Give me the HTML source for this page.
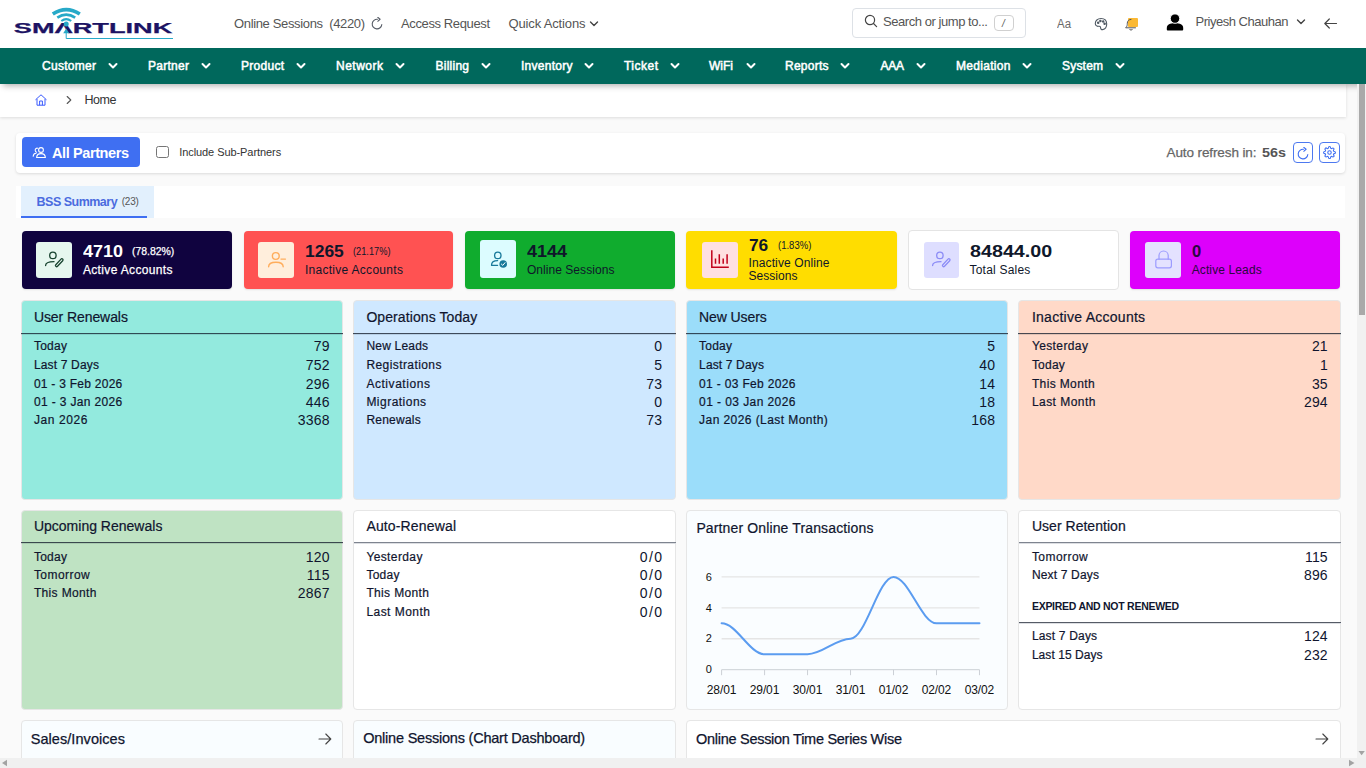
<!DOCTYPE html>
<html>
<head>
<meta charset="utf-8">
<title>Home</title>
<style>
*{box-sizing:border-box;margin:0;padding:0}
html,body{width:1366px;height:768px;overflow:hidden;background:#fafafa;font-family:"Liberation Sans",sans-serif;color:#222}
.a{position:absolute;white-space:nowrap}
.t{position:absolute;white-space:nowrap;line-height:1}
#header{left:0;top:0;width:1366px;height:48px;background:#fff}
#nav{left:0;top:48px;width:1366px;height:36px;background:#00685c;box-shadow:0 5px 6px -3px rgba(0,0,0,.3)}
#crumb{left:0;top:84px;width:1346px;height:33px;background:#fff;box-shadow:0 1px 3px rgba(0,0,0,.12)}
#filter{left:16px;top:133px;width:1329px;height:39.5px;background:#fff;border-radius:4px;box-shadow:0 1px 3px rgba(0,0,0,.13)}
#tabs{left:16px;top:185.5px;width:1329px;height:32px;background:#fff}
.card{height:58px;border-radius:4px;box-shadow:0 1px 2px rgba(0,0,0,.1)}
.ico{position:absolute;width:36px;height:36px;border-radius:3px}
.panel{border-radius:4px;border:1px solid #e6e6e6}
.hr{position:absolute;height:1px;background:#3a3a3a}
.sw{-webkit-text-stroke:.3px currentColor}
</style>
</head>
<body>
<div class="a" id="header"></div>
<svg class="a" style="left:0;top:0" width="190" height="48" viewBox="0 0 190 48">
<text x="13.8" y="33.4" font-family="Liberation Sans" font-weight="bold" font-size="15" fill="#1c1363" stroke="#1c1363" stroke-width=".25" textLength="158.6" lengthAdjust="spacingAndGlyphs">SM&#923;RTLINK</text>
<g fill="none" stroke="#27a9c8" stroke-linecap="butt">
<path d="M52.8 14 Q66.2 5.3 79.8 14" stroke-width="3.7"/>
<path d="M57.3 17.6 Q66.2 11.8 75.2 17.6" stroke-width="2.7"/>
<path d="M61.3 21 Q66.2 17.3 71.2 21" stroke-width="2.1"/>
<path d="M66.2 32 V38.5 H173" stroke-width="1"/>
</g>
<circle cx="66.2" cy="24" r="2.5" fill="#27a9c8"/>
<path d="M66.2 28.5 L69.2 33.2 H63.2 Z" fill="#27a9c8"/>
</svg>
<div class="t" id="t0" style="top:16.50px;font-size:13px;color:#555;letter-spacing:-0.352px;left:234.00px;">Online Sessions&nbsp; (4220)</div>
<svg class="a" style="left:369.7px;top:17.4px" width="14" height="14" viewBox="0 0 16 16" fill="none" stroke="#555b65" stroke-width="1.25" stroke-linecap="round" stroke-linejoin="round"><path d="M13.5 8.6 A5.5 5.5 0 1 1 8.6 2.6"/><path d="M8.9 0.3 L11.5 2.6 L8.9 4.9"/></svg>
<div class="t" id="t1" style="top:16.50px;font-size:13px;color:#555;letter-spacing:-0.380px;left:401.00px;">Access Request</div>
<div class="t" id="t2" style="top:16.50px;font-size:13px;color:#555;letter-spacing:-0.147px;left:508.50px;">Quick Actions</div>
<svg class="a" style="left:589px;top:19.5px" width="10" height="8" viewBox="0 0 10 8" fill="none" stroke="#444" stroke-width="1.4" stroke-linecap="round" stroke-linejoin="round"><path d="M1.5 2 L5 5.5 L8.5 2"/></svg>
<div class="a" style="left:852px;top:8px;width:174px;height:30px;border:1px solid #dde1e6;border-radius:4px"></div>
<svg class="a" style="left:864px;top:14px" width="14" height="14" viewBox="0 0 14 14" fill="none" stroke="#444" stroke-width="1.2" stroke-linecap="round"><circle cx="6" cy="6" r="4.6"/><path d="M9.5 9.5 L12.6 12.6"/></svg>
<div class="t" id="t3" style="top:15.00px;font-size:13px;color:#555;letter-spacing:-0.445px;left:883.00px;">Search or jump to...</div>
<div class="a" style="left:994.3px;top:15.2px;width:19.4px;height:15.6px;border:1px solid #d0d0d0;border-radius:4px"></div>
<div class="t" id="t4" style="top:18.54px;font-size:10px;color:#555;left:1002.00px;font-style:italic;">/</div>
<div class="t" id="t5" style="top:17.84px;font-size:12px;color:#6a6a6a;left:1057.30px;transform:scaleX(0.9532);transform-origin:left center;">Aa</div>
<svg class="a" style="left:1093.3px;top:16px" width="16" height="16" viewBox="0 0 16 16" fill="none" stroke="#505a64" stroke-width="1.1" stroke-linecap="round" stroke-linejoin="round"><path d="M8 2.5 C4.5 2.5 2.3 4.8 2.3 7.4 C2.3 9.4 3.8 10.6 5.4 10.3 C6.8 10 7.6 10.6 7.6 11.8 C7.6 13 8.4 13.8 9.6 13.6 C12 13.2 13.7 11 13.7 8 C13.7 4.6 11.3 2.5 8 2.5 Z"/><circle cx="5.2" cy="6.8" r=".7" fill="#444"/><circle cx="7.4" cy="4.9" r=".7" fill="#444"/><circle cx="10.2" cy="5.4" r=".7" fill="#444"/><circle cx="11.6" cy="7.8" r=".7" fill="#444"/></svg>
<div class="a" style="left:1128.2px;top:17.8px;width:9.6px;height:9.4px;background:#fbb934;border-radius:1px"></div>
<svg class="a" style="left:1123.6px;top:16.6px" width="14" height="15" viewBox="0 0 14 15" fill="none" stroke="#555" stroke-width="1" stroke-linecap="round" stroke-linejoin="round"><path d="M2 10.5 C3.2 9.5 3.3 8 3.3 6.2 C3.3 4 4.8 2.4 7 2.4"/><path d="M2 10.8 H11.5"/><path d="M5.6 12.4 C6 13.4 8 13.4 8.4 12.4"/></svg>
<svg class="a" style="left:1166px;top:13px" width="18" height="19" viewBox="0 0 18 19" fill="#000"><path d="M0.8 16.6 V15 C0.8 11.4 4 10.2 9 10.2 C14 10.2 17.2 11.4 17.2 15 V16.6 Q17.2 17.5 16.3 17.5 H1.7 Q0.8 17.5 0.8 16.6 Z"/><circle cx="9" cy="5.6" r="4.7" stroke="#fff" stroke-width=".9"/></svg>
<div class="t" id="t6" style="top:15.00px;font-size:13px;color:#555;letter-spacing:-0.481px;left:1195.50px;">Priyesh Chauhan</div>
<svg class="a" style="left:1295.8px;top:18px" width="10" height="8" viewBox="0 0 10 8" fill="none" stroke="#444" stroke-width="1.4" stroke-linecap="round" stroke-linejoin="round"><path d="M1.5 2 L5 5.5 L8.5 2"/></svg>
<svg class="a" style="left:1323px;top:17px" width="15" height="13" viewBox="0 0 15 13" fill="none" stroke="#444" stroke-width="1.2" stroke-linecap="round" stroke-linejoin="round"><path d="M13.5 6.5 H2 M6.3 2 L1.8 6.5 L6.3 11"/></svg>
<div class="a" id="crumb"></div>
<div class="a" id="nav"></div>
<div class="t" id="t7" style="top:59.84px;font-size:12px;color:#fff;letter-spacing:0.283px;left:42.00px;-webkit-text-stroke:.5px #fff;">Customer</div>
<svg class="a" style="left:108px;top:62px" width="10" height="8" viewBox="0 0 10 8" fill="none" stroke="#fff" stroke-width="2" stroke-linecap="round" stroke-linejoin="round"><path d="M1.5 2 L5 5.5 L8.5 2"/></svg>
<div class="t" id="t8" style="top:59.84px;font-size:12px;color:#fff;letter-spacing:0.273px;left:148.00px;-webkit-text-stroke:.5px #fff;">Partner</div>
<svg class="a" style="left:201px;top:62px" width="10" height="8" viewBox="0 0 10 8" fill="none" stroke="#fff" stroke-width="2" stroke-linecap="round" stroke-linejoin="round"><path d="M1.5 2 L5 5.5 L8.5 2"/></svg>
<div class="t" id="t9" style="top:59.84px;font-size:12px;color:#fff;letter-spacing:0.273px;left:241.00px;-webkit-text-stroke:.5px #fff;">Product</div>
<svg class="a" style="left:296px;top:62px" width="10" height="8" viewBox="0 0 10 8" fill="none" stroke="#fff" stroke-width="2" stroke-linecap="round" stroke-linejoin="round"><path d="M1.5 2 L5 5.5 L8.5 2"/></svg>
<div class="t" id="t10" style="top:59.84px;font-size:12px;color:#fff;letter-spacing:0.497px;left:336.00px;-webkit-text-stroke:.5px #fff;">Network</div>
<svg class="a" style="left:395px;top:62px" width="10" height="8" viewBox="0 0 10 8" fill="none" stroke="#fff" stroke-width="2" stroke-linecap="round" stroke-linejoin="round"><path d="M1.5 2 L5 5.5 L8.5 2"/></svg>
<div class="t" id="t11" style="top:59.84px;font-size:12px;color:#fff;letter-spacing:0.247px;left:435.50px;-webkit-text-stroke:.5px #fff;">Billing</div>
<svg class="a" style="left:481px;top:62px" width="10" height="8" viewBox="0 0 10 8" fill="none" stroke="#fff" stroke-width="2" stroke-linecap="round" stroke-linejoin="round"><path d="M1.5 2 L5 5.5 L8.5 2"/></svg>
<div class="t" id="t12" style="top:59.84px;font-size:12px;color:#fff;letter-spacing:0.268px;left:521.00px;-webkit-text-stroke:.5px #fff;">Inventory</div>
<svg class="a" style="left:584px;top:62px" width="10" height="8" viewBox="0 0 10 8" fill="none" stroke="#fff" stroke-width="2" stroke-linecap="round" stroke-linejoin="round"><path d="M1.5 2 L5 5.5 L8.5 2"/></svg>
<div class="t" id="t13" style="top:59.84px;font-size:12px;color:#fff;letter-spacing:0.487px;left:624.00px;-webkit-text-stroke:.5px #fff;">Ticket</div>
<svg class="a" style="left:670px;top:62px" width="10" height="8" viewBox="0 0 10 8" fill="none" stroke="#fff" stroke-width="2" stroke-linecap="round" stroke-linejoin="round"><path d="M1.5 2 L5 5.5 L8.5 2"/></svg>
<div class="t" id="t14" style="top:59.84px;font-size:12px;color:#fff;left:709.00px;-webkit-text-stroke:.5px #fff;">WiFi</div>
<svg class="a" style="left:746px;top:62px" width="10" height="8" viewBox="0 0 10 8" fill="none" stroke="#fff" stroke-width="2" stroke-linecap="round" stroke-linejoin="round"><path d="M1.5 2 L5 5.5 L8.5 2"/></svg>
<div class="t" id="t15" style="top:59.84px;font-size:12px;color:#fff;letter-spacing:0.245px;left:785.00px;-webkit-text-stroke:.5px #fff;">Reports</div>
<svg class="a" style="left:840px;top:62px" width="10" height="8" viewBox="0 0 10 8" fill="none" stroke="#fff" stroke-width="2" stroke-linecap="round" stroke-linejoin="round"><path d="M1.5 2 L5 5.5 L8.5 2"/></svg>
<div class="t" id="t16" style="top:59.84px;font-size:12px;color:#fff;letter-spacing:-0.258px;left:880.50px;-webkit-text-stroke:.5px #fff;">AAA</div>
<svg class="a" style="left:916px;top:62px" width="10" height="8" viewBox="0 0 10 8" fill="none" stroke="#fff" stroke-width="2" stroke-linecap="round" stroke-linejoin="round"><path d="M1.5 2 L5 5.5 L8.5 2"/></svg>
<div class="t" id="t17" style="top:59.84px;font-size:12px;color:#fff;letter-spacing:0.309px;left:956.00px;-webkit-text-stroke:.5px #fff;">Mediation</div>
<svg class="a" style="left:1022px;top:62px" width="10" height="8" viewBox="0 0 10 8" fill="none" stroke="#fff" stroke-width="2" stroke-linecap="round" stroke-linejoin="round"><path d="M1.5 2 L5 5.5 L8.5 2"/></svg>
<div class="t" id="t18" style="top:59.84px;font-size:12px;color:#fff;letter-spacing:0.197px;left:1062.00px;-webkit-text-stroke:.5px #fff;">System</div>
<svg class="a" style="left:1115px;top:62px" width="10" height="8" viewBox="0 0 10 8" fill="none" stroke="#fff" stroke-width="2" stroke-linecap="round" stroke-linejoin="round"><path d="M1.5 2 L5 5.5 L8.5 2"/></svg>
<svg class="a" style="left:34px;top:93px" width="14" height="14" viewBox="0 0 14 14" fill="none" stroke="#3b5bfd" stroke-width="1" stroke-linejoin="round"><path d="M1.5 6.8 L7 1.8 L12.5 6.8"/><path d="M3 6 V12.2 H11 V6"/><path d="M5.6 12.2 V8 H8.4 V12.2"/></svg>
<svg class="a" style="left:65px;top:95px" width="8" height="10" viewBox="0 0 8 10" fill="none" stroke="#555" stroke-width="1.1" stroke-linecap="round" stroke-linejoin="round"><path d="M2.2 1.5 L5.8 5 L2.2 8.5"/></svg>
<div class="t" id="t19" style="top:93.82px;font-size:12.5px;color:#333;letter-spacing:-0.448px;left:84.50px;">Home</div>
<div class="a" id="filter"></div>
<div class="a" style="left:22px;top:137.2px;width:118.2px;height:30.2px;background:#3f6ff2;border-radius:4px"></div>
<svg class="a" style="left:32px;top:146px" width="15" height="13" viewBox="0 0 15 13" fill="none" stroke="#fff" stroke-width="1.1" stroke-linecap="round" stroke-linejoin="round"><circle cx="9" cy="4" r="2.4"/><path d="M4.6 11.5 C4.8 8.6 6.6 7.6 9 7.6 C11.4 7.6 13.2 8.6 13.4 11.5 Z"/><path d="M5.6 2.2 C4.2 2 3.2 3 3.2 4.2 C3.2 5.2 3.8 5.9 4.6 6.2"/><path d="M1.2 10.3 C1.3 8.4 2.4 7.4 4 7.2"/></svg>
<div class="t" id="t20" style="top:145.83px;font-size:14.5px;color:#fff;font-weight:bold;letter-spacing:-0.401px;left:52.00px;">All Partners</div>
<div class="a" style="left:156.3px;top:146.2px;width:12.5px;height:12.2px;border:1.2px solid #767676;border-radius:2.5px;background:#fff"></div>
<div class="t" id="t21" style="top:146.89px;font-size:11px;color:#333;letter-spacing:-0.071px;left:179.20px;">Include Sub-Partners</div>
<div class="t" id="t22" style="top:146.07px;font-size:13.5px;color:#666;letter-spacing:-0.103px;left:1166.50px;-webkit-text-stroke:.25px currentColor;">Auto refresh in:</div>
<div class="t" id="t23" style="top:146.07px;font-size:13.5px;color:#555;font-weight:bold;left:1261.50px;transform:scaleX(1.0652);transform-origin:left center;">56s</div>
<div class="a" style="left:1292.8px;top:142.2px;width:19.9px;height:20.6px;border:1px solid #4d79f0;border-radius:4px;background:#fff"></div>
<div class="a" style="left:1319.2px;top:142.2px;width:20.7px;height:20.6px;border:1px solid #4d79f0;border-radius:4px;background:#fff"></div>
<svg class="a" style="left:1295.6px;top:146.9px" width="14" height="14" viewBox="0 0 16 16" fill="none" stroke="#3f6ff2" stroke-width="1.25" stroke-linecap="round" stroke-linejoin="round"><path d="M13.5 8.6 A5.5 5.5 0 1 1 8.6 2.6"/><path d="M8.9 0.3 L11.5 2.6 L8.9 4.9"/></svg>
<svg class="a" style="left:1323.1px;top:146.3px" width="13" height="13" viewBox="0 0 24 24" fill="none" stroke="#3f6ff2" stroke-width="2" stroke-linecap="round" stroke-linejoin="round"><circle cx="12" cy="12" r="3.2"/><path d="M19.4 15a1.65 1.65 0 0 0 .33 1.82l.06.06a2 2 0 1 1-2.83 2.83l-.06-.06a1.65 1.65 0 0 0-1.82-.33 1.65 1.65 0 0 0-1 1.51V21a2 2 0 0 1-4 0v-.09A1.65 1.65 0 0 0 9 19.4a1.65 1.65 0 0 0-1.82.33l-.06.06a2 2 0 1 1-2.83-2.83l.06-.06a1.65 1.65 0 0 0 .33-1.82 1.65 1.65 0 0 0-1.51-1H3a2 2 0 0 1 0-4h.09A1.65 1.65 0 0 0 4.6 9a1.65 1.65 0 0 0-.33-1.82l-.06-.06a2 2 0 1 1 2.83-2.83l.06.06a1.65 1.65 0 0 0 1.82.33H9a1.65 1.65 0 0 0 1-1.51V3a2 2 0 0 1 4 0v.09a1.65 1.65 0 0 0 1 1.51 1.65 1.65 0 0 0 1.82-.33l.06-.06a2 2 0 1 1 2.83 2.83l-.06.06a1.65 1.65 0 0 0-.33 1.82V9a1.65 1.65 0 0 0 1.51 1H21a2 2 0 0 1 0 4h-.09a1.65 1.65 0 0 0-1.51 1z"/></svg>
<div class="a" id="tabs"></div>
<div class="a" style="left:21.2px;top:185.5px;width:132.4px;height:32px;background:#e2f0fd"></div>
<div class="a" style="left:21.2px;top:215.6px;width:126px;height:2px;background:#3f6ff2"></div>
<div class="t" id="t24" style="top:195.52px;font-size:12.5px;color:#4a6bdf;font-weight:bold;letter-spacing:-0.516px;left:36.60px;">BSS Summary</div>
<div class="t" id="t25" style="top:197.13px;font-size:10px;color:#555;letter-spacing:-0.266px;left:121.80px;">(23)</div>
<div class="a card" style="left:22px;top:230.8px;width:210px;height:58px;background:#10033f;"></div>
<div class="ico" style="left:36.2px;top:241.9px;height:36px;width:36px;background:#e6f7ef"></div>
<div class="t" id="t26" style="top:242.93px;font-size:16.5px;color:#fff;font-weight:bold;left:83.20px;transform:scaleX(1.0894);transform-origin:left center;">4710</div>
<div class="t" id="t27" style="top:246.11px;font-size:10.5px;color:#fff;left:131.70px;transform:scaleX(0.9927);transform-origin:left center;-webkit-text-stroke:.25px currentColor;">(78.82%)</div>
<div class="t" id="t28" style="top:264.04px;font-size:12px;color:#fff;letter-spacing:0.349px;left:82.90px;-webkit-text-stroke:.25px currentColor;">Active Accounts</div>
<div class="a card" style="left:243.8px;top:230.8px;width:209.2px;height:58px;background:#ff5252;"></div>
<div class="ico" style="left:258.2px;top:241.9px;height:36px;width:36px;background:#ffeedc"></div>
<div class="t" id="t29" style="top:242.93px;font-size:16.5px;color:#0f172a;font-weight:bold;left:305.20px;transform:scaleX(1.0567);transform-origin:left center;">1265</div>
<div class="t" id="t30" style="top:246.11px;font-size:10.5px;color:#0f172a;left:353.30px;transform:scaleX(0.8801);transform-origin:left center;">(21.17%)</div>
<div class="t" id="t31" style="top:264.04px;font-size:12px;color:#0f172a;letter-spacing:0.288px;left:304.90px;">Inactive Accounts</div>
<div class="a card" style="left:464.6px;top:230.8px;width:210.2px;height:58px;background:#10ac2e;"></div>
<div class="ico" style="left:480.2px;top:240px;height:38px;width:36px;background:#dcfcff"></div>
<div class="t" id="t32" style="top:242.93px;font-size:16.5px;color:#0f172a;font-weight:bold;left:527.20px;transform:scaleX(1.0894);transform-origin:left center;">4144</div>
<div class="t" id="t33" style="top:264.04px;font-size:12px;color:#0f172a;letter-spacing:0.056px;left:526.90px;">Online Sessions</div>
<div class="a card" style="left:686.3px;top:230.7px;width:210.7px;height:58.1px;background:#ffdd00;"></div>
<div class="ico" style="left:702px;top:241.9px;height:36px;width:36px;background:#ffe0e0"></div>
<div class="t" id="t34" style="top:238.16px;font-size:16px;color:#0f172a;font-weight:bold;left:748.80px;transform:scaleX(1.0788);transform-origin:left center;">76</div>
<div class="t" id="t35" style="top:240.41px;font-size:10.5px;color:#0f172a;left:777.90px;transform:scaleX(0.9057);transform-origin:left center;">(1.83%)</div>
<div class="t" id="t36" style="top:257.24px;font-size:12px;color:#0f172a;letter-spacing:0.101px;left:748.60px;">Inactive Online</div>
<div class="t" id="t37" style="top:270.14px;font-size:12px;color:#0f172a;letter-spacing:0.014px;left:748.60px;">Sessions</div>
<div class="a card" style="left:907.6px;top:230px;width:211.4px;height:60px;background:#fff;border:1px solid #e4e4e4;box-shadow:none;border-radius:4px;"></div>
<div class="ico" style="left:923.8px;top:241.8px;height:36px;width:35px;background:#dedeff"></div>
<div class="t" id="t38" style="top:242.93px;font-size:16.5px;color:#0f172a;font-weight:bold;left:969.80px;transform:scaleX(1.1943);transform-origin:left center;">84844.00</div>
<div class="t" id="t39" style="top:264.04px;font-size:12px;color:#0f172a;letter-spacing:0.210px;left:969.50px;">Total Sales</div>
<div class="a card" style="left:1129.9px;top:230.8px;width:210.4px;height:58px;background:#dd00fb;"></div>
<div class="ico" style="left:1145px;top:241.8px;height:36px;width:36px;background:#e4e2ff"></div>
<div class="t" id="t40" style="top:242.93px;font-size:16.5px;color:#2a0840;font-weight:bold;left:1192.00px;">0</div>
<div class="t" id="t41" style="top:264.04px;font-size:12px;color:#2a0840;letter-spacing:0.116px;left:1191.70px;">Active Leads</div>
<svg class="a" style="left:36.2px;top:241.9px" width="36" height="36" viewBox="0 0 36 36" fill="none" stroke="#17432f" stroke-width="1.3" stroke-linecap="round" stroke-linejoin="round"><circle cx="16.9" cy="13.4" r="3.2"/><path d="M9.6 23.6 C9.6 20.6 12 19.7 18 19.7"/><path d="M19.8 22.7 L25 17.1 A1.15 1.15 0 0 1 26.7 18.7 L21.5 24.3 A1.15 1.15 0 0 1 19.8 22.7 Z"/></svg>
<svg class="a" style="left:258.2px;top:241.9px" width="36" height="36" viewBox="0 0 36 36" fill="none" stroke="#ffad5c" stroke-width="1.4" stroke-linecap="round" stroke-linejoin="round"><circle cx="17.8" cy="14" r="3.4"/><path d="M10.6 24.8 C10.6 21.5 13 20.2 17.9 20.2 C22.6 20.2 25.2 21.5 25.2 24.8"/><path d="M23 17.1 H27.4"/></svg>
<svg class="a" style="left:480.2px;top:240px" width="36" height="38" viewBox="0 0 36 38" fill="none" stroke="#17799a" stroke-width="1.3" stroke-linecap="round" stroke-linejoin="round"><circle cx="17.8" cy="15.4" r="3.2"/><path d="M17.6 20.6 C13.6 20.6 11.5 22.5 11.5 25.3 H17.6"/><circle cx="23.2" cy="24" r="3.8" fill="#17799a" stroke="none"/><path d="M21.4 24.1 L22.8 25.4 L25 22.7" stroke="#fff" stroke-width="1"/></svg>
<svg class="a" style="left:702px;top:241.9px" width="36" height="36" viewBox="0 0 36 36" fill="none" stroke="#c2001a" stroke-width="1.5" stroke-linecap="butt"><path d="M9.8 8.2 V25.3 H26.8"/><path d="M13.5 16.5 V21.8 M17.3 12.2 V21.8 M21.2 16.5 V21.8 M25.1 12.2 V21.8"/></svg>
<svg class="a" style="left:923.2px;top:242px" width="36" height="36" viewBox="0 0 36 36" fill="none" stroke="#8c8cf6" stroke-width="1.3" stroke-linecap="round" stroke-linejoin="round"><circle cx="16.9" cy="13.4" r="3.2"/><path d="M9.6 23.6 C9.6 20.6 12 19.7 18 19.7"/><path d="M19.8 22.7 L25 17.1 A1.15 1.15 0 0 1 26.7 18.7 L21.5 24.3 A1.15 1.15 0 0 1 19.8 22.7 Z"/></svg>
<svg class="a" style="left:1145px;top:241.8px" width="36" height="36" viewBox="0 0 36 36" fill="none" stroke="#9c9cff" stroke-width="1.2" stroke-linecap="round" stroke-linejoin="round"><rect x="10.8" y="17.2" width="15.6" height="8.6" rx="2"/><path d="M14 17.2 V13.6 A4.6 4.6 0 0 1 23.2 13.6 V17.2"/></svg>
<div class="a panel" style="left:21px;top:300px;width:322px;height:200px;background:#93eade"></div>
<div class="t" id="t42" style="top:310.45px;font-size:14px;color:#10152e;letter-spacing:-0.078px;left:33.90px;-webkit-text-stroke:.2px currentColor;">User Renewals</div>
<div class="hr" style="left:21px;width:322px;top:333px;background:rgba(20,30,45,.78)"></div><div class="hr" style="left:21px;width:322px;top:334px;background:rgba(20,30,45,.12)"></div>
<div class="t" id="t43" style="top:340.14px;font-size:12px;color:#10152e;letter-spacing:0.242px;left:33.90px;-webkit-text-stroke:.2px currentColor;">Today</div>
<div class="t" id="t44" style="top:338.75px;font-size:14px;color:#10152e;right:1036.40px;letter-spacing:.15px;">79</div>
<div class="t" id="t45" style="top:359.04px;font-size:12px;color:#10152e;letter-spacing:0.163px;left:33.90px;-webkit-text-stroke:.2px currentColor;">Last 7 Days</div>
<div class="t" id="t46" style="top:357.65px;font-size:14px;color:#10152e;right:1036.40px;letter-spacing:.15px;">752</div>
<div class="t" id="t47" style="top:377.94px;font-size:12px;color:#10152e;letter-spacing:0.262px;left:33.90px;-webkit-text-stroke:.2px currentColor;">01 - 3 Feb 2026</div>
<div class="t" id="t48" style="top:376.55px;font-size:14px;color:#10152e;right:1036.40px;letter-spacing:.15px;">296</div>
<div class="t" id="t49" style="top:395.94px;font-size:12px;color:#10152e;letter-spacing:0.357px;left:33.90px;-webkit-text-stroke:.2px currentColor;">01 - 3 Jan 2026</div>
<div class="t" id="t50" style="top:394.55px;font-size:14px;color:#10152e;right:1036.40px;letter-spacing:.15px;">446</div>
<div class="t" id="t51" style="top:414.04px;font-size:12px;color:#10152e;letter-spacing:0.587px;left:33.90px;-webkit-text-stroke:.2px currentColor;">Jan 2026</div>
<div class="t" id="t52" style="top:412.65px;font-size:14px;color:#10152e;right:1036.40px;letter-spacing:.15px;">3368</div>
<div class="a panel" style="left:353px;top:300px;width:323px;height:200px;background:#cfe8ff"></div>
<div class="t" id="t53" style="top:310.45px;font-size:14px;color:#10152e;letter-spacing:0.088px;left:366.40px;-webkit-text-stroke:.2px currentColor;">Operations Today</div>
<div class="hr" style="left:353px;width:323px;top:333px;background:rgba(20,30,45,.78)"></div><div class="hr" style="left:353px;width:323px;top:334px;background:rgba(20,30,45,.12)"></div>
<div class="t" id="t54" style="top:340.14px;font-size:12px;color:#10152e;letter-spacing:0.207px;left:366.40px;-webkit-text-stroke:.2px currentColor;">New Leads</div>
<div class="t" id="t55" style="top:338.75px;font-size:14px;color:#10152e;right:703.90px;letter-spacing:.15px;">0</div>
<div class="t" id="t56" style="top:359.04px;font-size:12px;color:#10152e;letter-spacing:0.414px;left:366.40px;-webkit-text-stroke:.2px currentColor;">Registrations</div>
<div class="t" id="t57" style="top:357.65px;font-size:14px;color:#10152e;right:703.90px;letter-spacing:.15px;">5</div>
<div class="t" id="t58" style="top:377.94px;font-size:12px;color:#10152e;letter-spacing:0.547px;left:366.40px;-webkit-text-stroke:.2px currentColor;">Activations</div>
<div class="t" id="t59" style="top:376.55px;font-size:14px;color:#10152e;right:703.90px;letter-spacing:.15px;">73</div>
<div class="t" id="t60" style="top:395.94px;font-size:12px;color:#10152e;letter-spacing:0.482px;left:366.40px;-webkit-text-stroke:.2px currentColor;">Migrations</div>
<div class="t" id="t61" style="top:394.55px;font-size:14px;color:#10152e;right:703.90px;letter-spacing:.15px;">0</div>
<div class="t" id="t62" style="top:414.04px;font-size:12px;color:#10152e;letter-spacing:0.228px;left:366.40px;-webkit-text-stroke:.2px currentColor;">Renewals</div>
<div class="t" id="t63" style="top:412.65px;font-size:14px;color:#10152e;right:703.90px;letter-spacing:.15px;">73</div>
<div class="a panel" style="left:686px;top:300px;width:322px;height:200px;background:#9bddfa"></div>
<div class="t" id="t64" style="top:310.45px;font-size:14px;color:#10152e;letter-spacing:-0.096px;left:699.10px;-webkit-text-stroke:.2px currentColor;">New Users</div>
<div class="hr" style="left:686px;width:322px;top:333px;background:rgba(20,30,45,.78)"></div><div class="hr" style="left:686px;width:322px;top:334px;background:rgba(20,30,45,.12)"></div>
<div class="t" id="t65" style="top:340.14px;font-size:12px;color:#10152e;letter-spacing:0.217px;left:699.10px;-webkit-text-stroke:.2px currentColor;">Today</div>
<div class="t" id="t66" style="top:338.75px;font-size:14px;color:#10152e;right:370.90px;letter-spacing:.15px;">5</div>
<div class="t" id="t67" style="top:359.04px;font-size:12px;color:#10152e;letter-spacing:0.142px;left:699.10px;-webkit-text-stroke:.2px currentColor;">Last 7 Days</div>
<div class="t" id="t68" style="top:357.65px;font-size:14px;color:#10152e;right:370.90px;letter-spacing:.15px;">40</div>
<div class="t" id="t69" style="top:377.94px;font-size:12px;color:#10152e;letter-spacing:0.333px;left:699.10px;-webkit-text-stroke:.2px currentColor;">01 - 03 Feb 2026</div>
<div class="t" id="t70" style="top:376.55px;font-size:14px;color:#10152e;right:370.90px;letter-spacing:.15px;">14</div>
<div class="t" id="t71" style="top:395.94px;font-size:12px;color:#10152e;letter-spacing:0.421px;left:699.10px;-webkit-text-stroke:.2px currentColor;">01 - 03 Jan 2026</div>
<div class="t" id="t72" style="top:394.55px;font-size:14px;color:#10152e;right:370.90px;letter-spacing:.15px;">18</div>
<div class="t" id="t73" style="top:414.04px;font-size:12px;color:#10152e;letter-spacing:0.431px;left:699.10px;-webkit-text-stroke:.2px currentColor;">Jan 2026 (Last Month)</div>
<div class="t" id="t74" style="top:412.65px;font-size:14px;color:#10152e;right:370.90px;letter-spacing:.15px;">168</div>
<div class="a panel" style="left:1018px;top:300px;width:323px;height:200px;background:#ffd9c8"></div>
<div class="t" id="t75" style="top:310.45px;font-size:14px;color:#10152e;letter-spacing:0.265px;left:1031.90px;-webkit-text-stroke:.2px currentColor;">Inactive Accounts</div>
<div class="hr" style="left:1018px;width:323px;top:333px;background:rgba(20,30,45,.78)"></div><div class="hr" style="left:1018px;width:323px;top:334px;background:rgba(20,30,45,.12)"></div>
<div class="t" id="t76" style="top:340.14px;font-size:12px;color:#10152e;letter-spacing:0.383px;left:1031.90px;-webkit-text-stroke:.2px currentColor;">Yesterday</div>
<div class="t" id="t77" style="top:338.75px;font-size:14px;color:#10152e;right:38.20px;letter-spacing:.15px;">21</div>
<div class="t" id="t78" style="top:359.04px;font-size:12px;color:#10152e;letter-spacing:0.217px;left:1031.90px;-webkit-text-stroke:.2px currentColor;">Today</div>
<div class="t" id="t79" style="top:357.65px;font-size:14px;color:#10152e;right:38.20px;letter-spacing:.15px;">1</div>
<div class="t" id="t80" style="top:377.94px;font-size:12px;color:#10152e;letter-spacing:0.371px;left:1031.90px;-webkit-text-stroke:.2px currentColor;">This Month</div>
<div class="t" id="t81" style="top:376.55px;font-size:14px;color:#10152e;right:38.20px;letter-spacing:.15px;">35</div>
<div class="t" id="t82" style="top:395.94px;font-size:12px;color:#10152e;letter-spacing:0.458px;left:1031.90px;-webkit-text-stroke:.2px currentColor;">Last Month</div>
<div class="t" id="t83" style="top:394.55px;font-size:14px;color:#10152e;right:38.20px;letter-spacing:.15px;">294</div>
<div class="a panel" style="left:21px;top:510px;width:322px;height:199.6px;background:#bfe3c3"></div>
<div class="t" id="t84" style="top:518.85px;font-size:14px;color:#10152e;letter-spacing:0.006px;left:33.90px;-webkit-text-stroke:.2px currentColor;">Upcoming Renewals</div>
<div class="hr" style="left:21px;width:322px;top:542px;background:rgba(20,30,45,.78)"></div><div class="hr" style="left:21px;width:322px;top:543px;background:rgba(20,30,45,.12)"></div>
<div class="t" id="t85" style="top:551.14px;font-size:12px;color:#10152e;letter-spacing:0.242px;left:33.90px;-webkit-text-stroke:.2px currentColor;">Today</div>
<div class="t" id="t86" style="top:549.75px;font-size:14px;color:#10152e;right:1036.40px;letter-spacing:.15px;">120</div>
<div class="t" id="t87" style="top:569.24px;font-size:12px;color:#10152e;letter-spacing:0.445px;left:33.90px;-webkit-text-stroke:.2px currentColor;">Tomorrow</div>
<div class="t" id="t88" style="top:567.85px;font-size:14px;color:#10152e;right:1036.40px;letter-spacing:.15px;">115</div>
<div class="t" id="t89" style="top:587.24px;font-size:12px;color:#10152e;letter-spacing:0.349px;left:33.90px;-webkit-text-stroke:.2px currentColor;">This Month</div>
<div class="t" id="t90" style="top:585.85px;font-size:14px;color:#10152e;right:1036.40px;letter-spacing:.15px;">2867</div>
<div class="a panel" style="left:353px;top:510px;width:323px;height:199.6px;background:#fff"></div>
<div class="t" id="t91" style="top:518.85px;font-size:14px;color:#10152e;letter-spacing:0.151px;left:366.40px;-webkit-text-stroke:.2px currentColor;">Auto-Renewal</div>
<div class="hr" style="left:353.5px;width:322px;top:542px;background:#7e848f"></div><div class="hr" style="left:353.5px;width:322px;top:543px;background:#dcdee2"></div>
<div class="t" id="t92" style="top:551.14px;font-size:12px;color:#10152e;letter-spacing:0.383px;left:366.40px;-webkit-text-stroke:.2px currentColor;">Yesterday</div>
<div class="t" id="t93" style="top:549.75px;font-size:14px;color:#10152e;letter-spacing:1.466px;right:702.43px;">0/0</div>
<div class="t" id="t94" style="top:569.24px;font-size:12px;color:#10152e;letter-spacing:0.242px;left:366.40px;-webkit-text-stroke:.2px currentColor;">Today</div>
<div class="t" id="t95" style="top:567.85px;font-size:14px;color:#10152e;letter-spacing:1.466px;right:702.43px;">0/0</div>
<div class="t" id="t96" style="top:587.24px;font-size:12px;color:#10152e;letter-spacing:0.349px;left:366.40px;-webkit-text-stroke:.2px currentColor;">This Month</div>
<div class="t" id="t97" style="top:585.85px;font-size:14px;color:#10152e;letter-spacing:1.466px;right:702.43px;">0/0</div>
<div class="t" id="t98" style="top:606.14px;font-size:12px;color:#10152e;letter-spacing:0.458px;left:366.40px;-webkit-text-stroke:.2px currentColor;">Last Month</div>
<div class="t" id="t99" style="top:604.75px;font-size:14px;color:#10152e;letter-spacing:1.466px;right:702.43px;">0/0</div>
<div class="a panel" style="left:686px;top:510px;width:322px;height:199.6px;background:#fafdff"></div>
<div class="t" id="t100" style="top:521.05px;font-size:14px;color:#10152e;letter-spacing:0.133px;left:696.40px;-webkit-text-stroke:.2px currentColor;">Partner Online Transactions</div>
<div class="a panel" style="left:1018px;top:510px;width:323px;height:199.6px;background:#fff"></div>
<div class="t" id="t101" style="top:518.85px;font-size:14px;color:#10152e;letter-spacing:0.031px;left:1031.90px;-webkit-text-stroke:.2px currentColor;">User Retention</div>
<div class="hr" style="left:1018.5px;width:322px;top:542px;background:#7e848f"></div><div class="hr" style="left:1018.5px;width:322px;top:543px;background:#dcdee2"></div>
<div class="t" id="t102" style="top:551.14px;font-size:12px;color:#10152e;letter-spacing:0.445px;left:1031.90px;-webkit-text-stroke:.2px currentColor;">Tomorrow</div>
<div class="t" id="t103" style="top:549.75px;font-size:14px;color:#10152e;right:38.20px;letter-spacing:.15px;">115</div>
<div class="t" id="t104" style="top:569.24px;font-size:12px;color:#10152e;letter-spacing:0.164px;left:1031.90px;-webkit-text-stroke:.2px currentColor;">Next 7 Days</div>
<div class="t" id="t105" style="top:567.85px;font-size:14px;color:#10152e;right:38.20px;letter-spacing:.15px;">896</div>
<div class="t" id="t106" style="top:601.11px;font-size:10.5px;color:#10152e;font-weight:bold;letter-spacing:-0.261px;left:1031.90px;">EXPIRED AND NOT RENEWED</div>
<div class="hr" style="left:1018.5px;width:322px;top:622px;background:#555b66"></div><div class="hr" style="left:1018.5px;width:322px;top:623px;background:#dcdee2"></div>
<div class="t" id="t107" style="top:629.94px;font-size:12px;color:#10152e;letter-spacing:0.183px;left:1031.90px;-webkit-text-stroke:.2px currentColor;">Last 7 Days</div>
<div class="t" id="t108" style="top:628.85px;font-size:14px;color:#10152e;right:38.20px;letter-spacing:.15px;">124</div>
<div class="t" id="t109" style="top:648.64px;font-size:12px;color:#10152e;letter-spacing:0.059px;left:1031.90px;-webkit-text-stroke:.2px currentColor;">Last 15 Days</div>
<div class="t" id="t110" style="top:647.55px;font-size:14px;color:#10152e;right:38.20px;letter-spacing:.15px;">232</div>
<svg class="a" style="left:0;top:0" width="1366" height="768" viewBox="0 0 1366 768" fill="none"><path d="M721.6 638.76 H979.48" stroke="#e5e5e5" stroke-width="1.3"/><path d="M721.6 607.82 H979.48" stroke="#e5e5e5" stroke-width="1.3"/><path d="M721.6 576.88 H979.48" stroke="#e5e5e5" stroke-width="1.3"/><path d="M721.6 669.70 H979.48" stroke="#ccd0d6" stroke-width="1"/><path d="M721.60 669.70 V675.20" stroke="#ccd0d6" stroke-width="1"/><path d="M764.58 669.70 V675.20" stroke="#ccd0d6" stroke-width="1"/><path d="M807.56 669.70 V675.20" stroke="#ccd0d6" stroke-width="1"/><path d="M850.54 669.70 V675.20" stroke="#ccd0d6" stroke-width="1"/><path d="M893.52 669.70 V675.20" stroke="#ccd0d6" stroke-width="1"/><path d="M936.50 669.70 V675.20" stroke="#ccd0d6" stroke-width="1"/><path d="M979.48 669.70 V675.20" stroke="#ccd0d6" stroke-width="1"/><path d="M721.60 623.29 C736.64 623.29 749.54 654.23 764.58 654.23 C779.62 654.23 792.52 654.23 807.56 654.23 C822.60 654.23 835.50 638.76 850.54 638.76 C865.58 638.76 878.48 576.88 893.52 576.88 C908.56 576.88 921.46 623.29 936.50 623.29 C951.54 623.29 964.44 623.29 979.48 623.29" stroke="#5b9cf0" stroke-width="2" stroke-linecap="round" stroke-linejoin="round"/></svg>
<div class="t" id="t111" style="top:664.39px;font-size:11px;color:#111;right:654.20px;">0</div>
<div class="t" id="t112" style="top:633.45px;font-size:11px;color:#111;right:654.20px;">2</div>
<div class="t" id="t113" style="top:602.51px;font-size:11px;color:#111;right:654.20px;">4</div>
<div class="t" id="t114" style="top:571.57px;font-size:11px;color:#111;right:654.20px;">6</div>
<div class="t" id="t115" style="top:683.64px;font-size:12px;color:#111;letter-spacing:-0.108px;left:706.80px;">28/01</div>
<div class="t" id="t116" style="top:683.64px;font-size:12px;color:#111;letter-spacing:-0.108px;left:749.78px;">29/01</div>
<div class="t" id="t117" style="top:683.64px;font-size:12px;color:#111;letter-spacing:-0.108px;left:792.76px;">30/01</div>
<div class="t" id="t118" style="top:683.64px;font-size:12px;color:#111;letter-spacing:-0.108px;left:835.74px;">31/01</div>
<div class="t" id="t119" style="top:683.64px;font-size:12px;color:#111;letter-spacing:-0.108px;left:878.72px;">01/02</div>
<div class="t" id="t120" style="top:683.64px;font-size:12px;color:#111;letter-spacing:-0.108px;left:921.70px;">02/02</div>
<div class="t" id="t121" style="top:683.64px;font-size:12px;color:#111;letter-spacing:-0.108px;left:964.68px;">03/02</div>
<div class="a panel" style="left:21px;top:720.2px;width:322px;height:60px;background:#f9fdff"></div>
<div class="t" id="t122" style="top:731.63px;font-size:14.5px;color:#10152e;letter-spacing:0.062px;left:30.70px;-webkit-text-stroke:.25px currentColor;">Sales/Invoices</div>
<svg class="a" style="left:317.5px;top:732.7px" width="14" height="12" viewBox="0 0 14 12" fill="none" stroke="#444" stroke-width="1.1" stroke-linecap="round" stroke-linejoin="round"><path d="M1 6 H12.5 M7.8 1 L12.8 6 L7.8 11"/></svg>
<div class="a panel" style="left:353px;top:720.2px;width:323px;height:60px;background:#f9fdff"></div>
<div class="t" id="t123" style="top:730.93px;font-size:14.5px;color:#10152e;letter-spacing:-0.215px;left:363.20px;-webkit-text-stroke:.25px currentColor;">Online Sessions (Chart Dashboard)</div>
<div class="a panel" style="left:686px;top:720.2px;width:655px;height:60px;background:#fff"></div>
<div class="t" id="t124" style="top:731.93px;font-size:14.5px;color:#10152e;letter-spacing:-0.279px;left:696.00px;-webkit-text-stroke:.25px currentColor;">Online Session Time Series Wise</div>
<svg class="a" style="left:1315px;top:732.7px" width="14" height="12" viewBox="0 0 14 12" fill="none" stroke="#444" stroke-width="1.1" stroke-linecap="round" stroke-linejoin="round"><path d="M1 6 H12.5 M7.8 1 L12.8 6 L7.8 11"/></svg>
<div class="a" style="left:1357px;top:84px;width:9px;height:674px;background:#f1f1f1"></div>
<div class="a" style="left:1359px;top:84px;width:6px;height:231px;background:#a9a9a9"></div>
<div class="a" style="left:0;top:758px;width:1366px;height:10px;background:#f0f0f0"></div>
<svg class="a" style="left:0;top:758px" width="1366" height="10" viewBox="0 0 1366 10"><path d="M2 5 L7 1.8 V8.2 Z" fill="#a3a3a3"/><path d="M1354.5 5 L1349 1.8 V8.2 Z" fill="#a3a3a3"/></svg>
<svg class="a" style="left:1357px;top:748px" width="9" height="10" viewBox="0 0 9 10"><path d="M1.5 3 H7.8 L4.65 7.2 Z" fill="#a3a3a3"/></svg>
</body>
</html>
